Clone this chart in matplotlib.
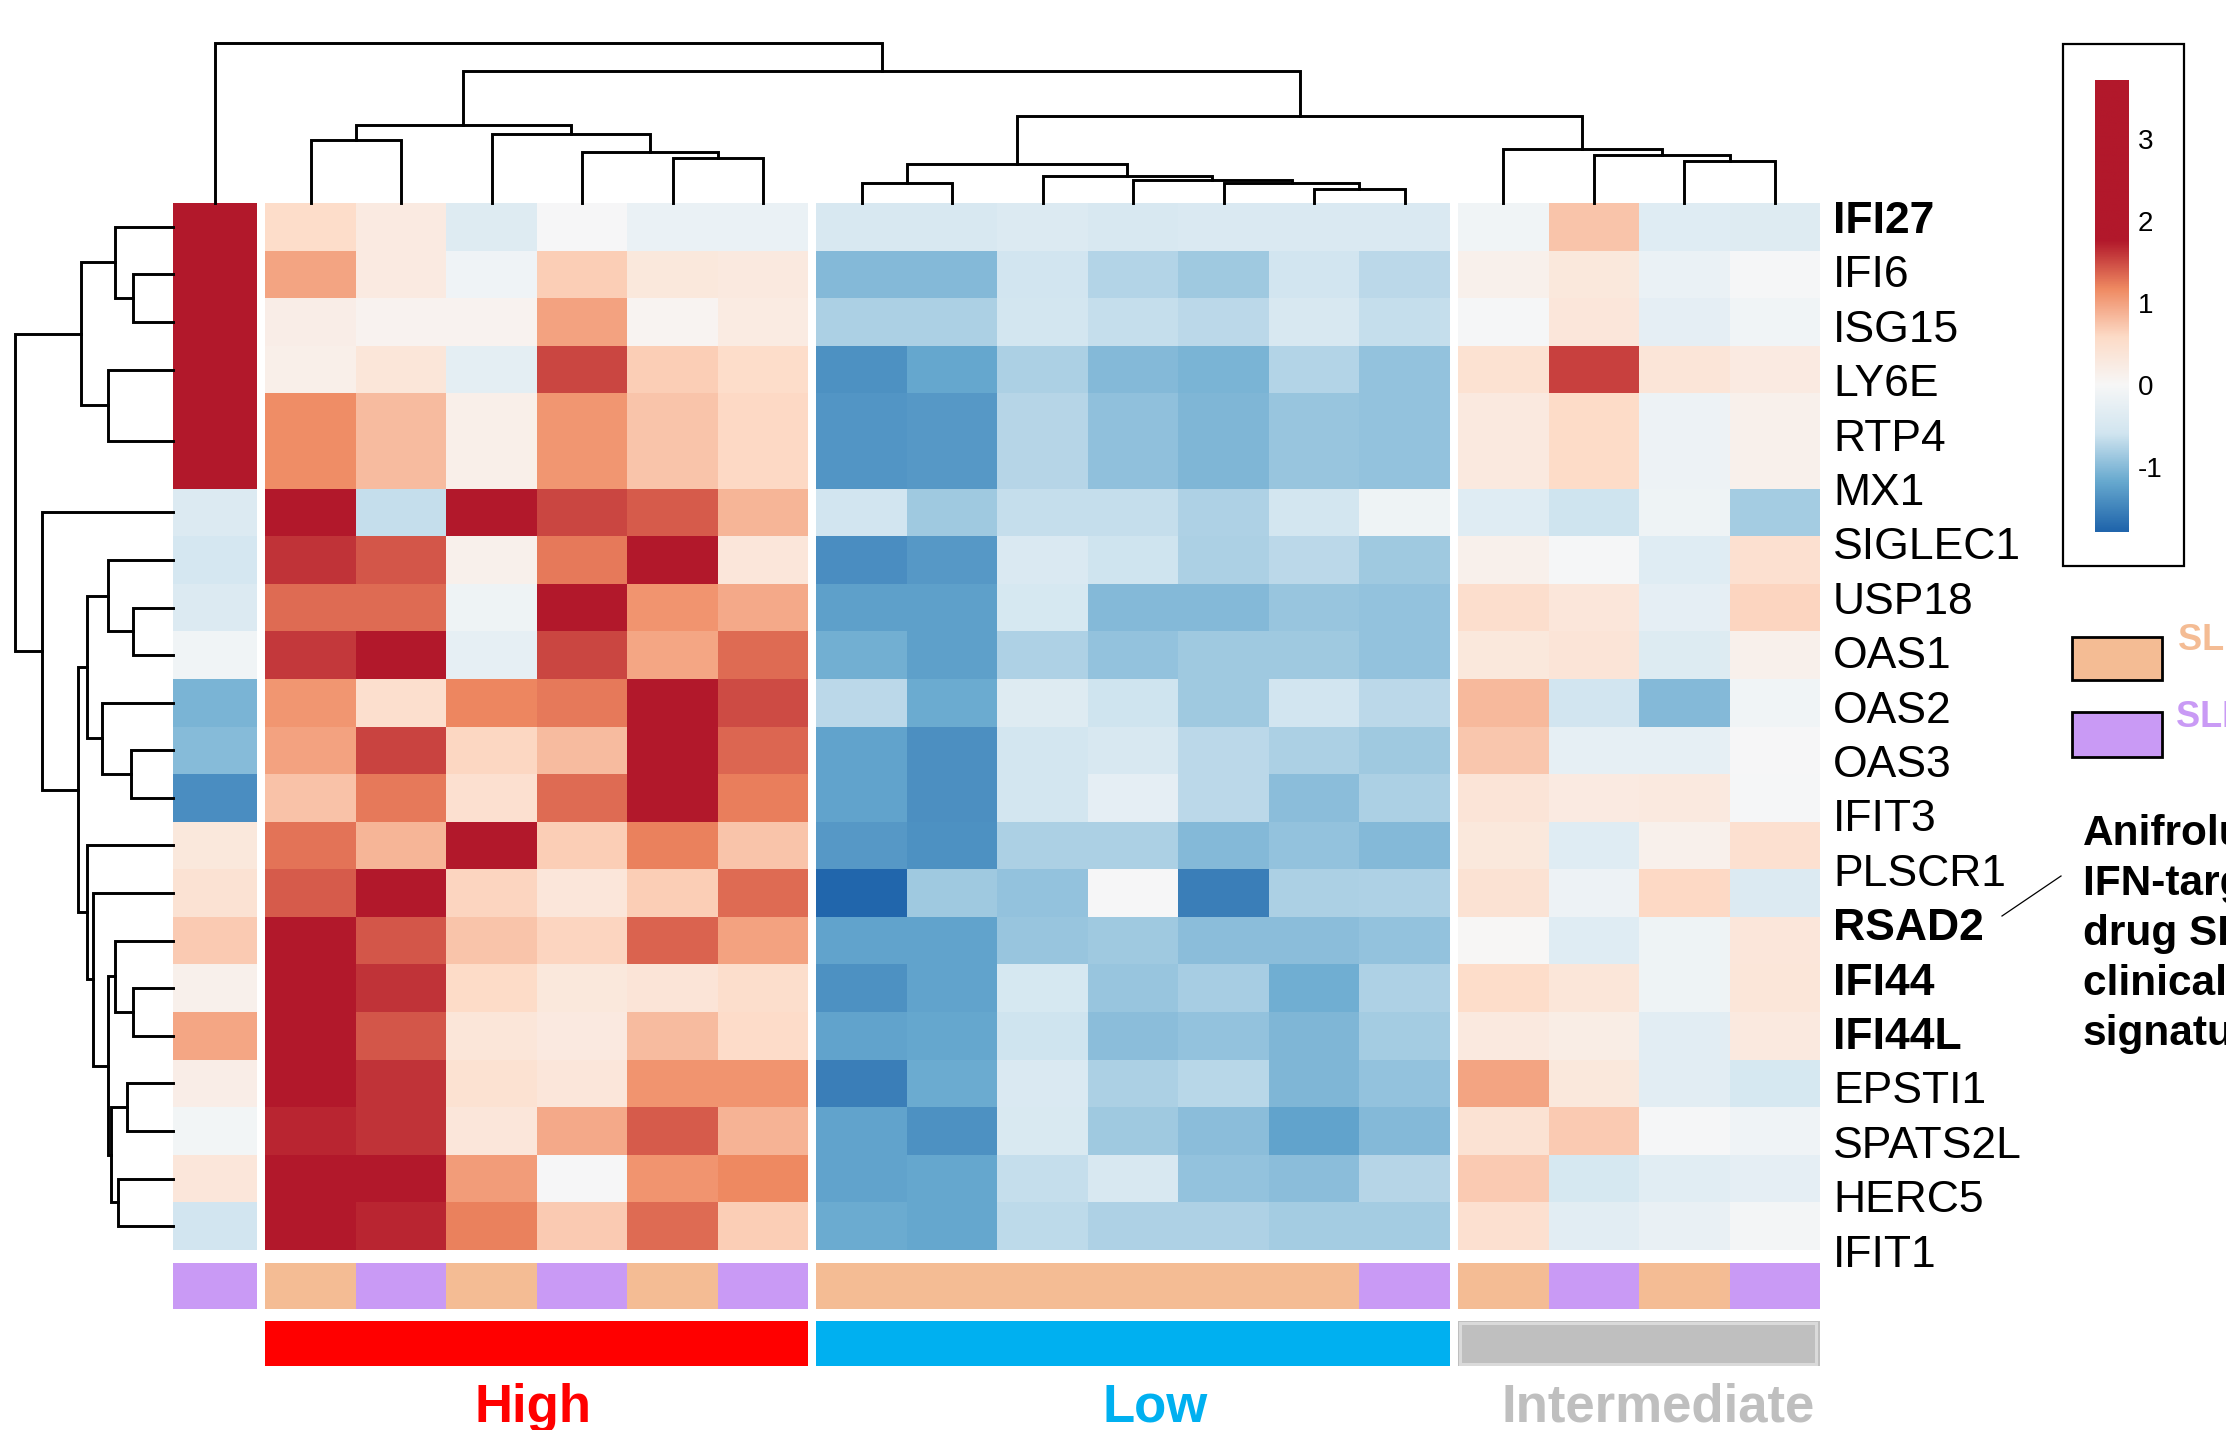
import numpy as np
import matplotlib
matplotlib.use("Agg")
import matplotlib.pyplot as plt
from matplotlib.colors import LinearSegmentedColormap, Normalize, ListedColormap
from matplotlib.patches import Rectangle
from matplotlib.ticker import FixedLocator, FixedFormatter

plt.rcParams['font.family'] = ['Liberation Sans', 'DejaVu Sans']
plt.rcParams['axes.unicode_minus'] = False

# ---------------- data ----------------
genes = ["IFI27", "IFI6", "ISG15", "LY6E", "RTP4", "MX1", "SIGLEC1", "USP18", "OAS1",
         "OAS2", "OAS3", "IFIT3", "PLSCR1", "RSAD2", "IFI44", "IFI44L", "EPSTI1",
         "SPATS2L", "HERC5", "IFIT1"]
bold_genes = ["IFI27", "RSAD2", "IFI44", "IFI44L"]

# relative heights of the heatmap rows (5th row is drawn double height)
row_heights = [1, 1, 1, 1, 2] + [1] * 16

# z-scores, first (separate) column
z_first = [2.5, 2.5, 2.5, 2.5, 2.5, -0.42, -0.52, -0.42, -0.10, -1.07, -1.00, -1.42,
           0.33, 0.43, 0.71, 0.15, 0.97, 0.20, -0.08, 0.35, -0.57]

z_high = [
    [0.55, 0.27, -0.40, -0.02, -0.20, -0.20],
    [0.99, 0.27, -0.12, 0.68, 0.32, 0.30],
    [0.20, 0.10, 0.10, 1.00, 0.08, 0.25],
    [0.17, 0.36, -0.30, 1.53, 0.68, 0.55],
    [1.15, 0.82, 0.17, 1.08, 0.75, 0.60],
    [2.30, -0.65, 2.30, 1.53, 1.42, 0.86],
    [1.63, 1.45, 0.15, 1.26, 2.30, 0.35],
    [1.34, 1.34, -0.15, 2.30, 1.10, 0.95],
    [1.60, 2.30, -0.27, 1.53, 0.97, 1.34],
    [1.08, 0.50, 1.20, 1.26, 2.30, 1.50],
    [1.00, 1.54, 0.62, 0.82, 2.30, 1.36],
    [0.77, 1.26, 0.48, 1.34, 2.30, 1.24],
    [1.29, 0.86, 2.30, 0.68, 1.22, 0.76],
    [1.42, 2.30, 0.63, 0.35, 0.68, 1.34],
    [2.30, 1.45, 0.75, 0.63, 1.37, 1.00],
    [2.30, 1.63, 0.57, 0.32, 0.40, 0.53],
    [2.30, 1.45, 0.37, 0.28, 0.82, 0.56],
    [2.30, 1.63, 0.45, 0.35, 1.10, 1.10],
    [1.70, 1.63, 0.35, 0.95, 1.42, 0.88],
    [2.30, 2.20, 1.05, -0.02, 1.10, 1.18],
    [2.30, 1.70, 1.22, 0.71, 1.34, 0.68],
]

z_low = [
    [-0.48, -0.48, -0.42, -0.48, -0.45, -0.45, -0.45],
    [-1.01, -1.01, -0.57, -0.75, -0.87, -0.58, -0.71],
    [-0.79, -0.79, -0.56, -0.65, -0.71, -0.48, -0.65],
    [-1.39, -1.19, -0.79, -1.02, -1.07, -0.75, -0.94],
    [-1.35, -1.32, -0.74, -0.95, -1.05, -0.90, -0.94],
    [-0.57, -0.87, -0.65, -0.65, -0.78, -0.56, -0.14],
    [-1.42, -1.32, -0.45, -0.60, -0.79, -0.71, -0.87],
    [-1.25, -1.25, -0.50, -1.01, -1.01, -0.90, -0.94],
    [-1.11, -1.25, -0.78, -0.94, -0.86, -0.87, -0.94],
    [-0.71, -1.16, -0.38, -0.60, -0.86, -0.58, -0.71],
    [-1.22, -1.41, -0.56, -0.48, -0.71, -0.79, -0.87],
    [-1.22, -1.41, -0.56, -0.28, -0.71, -0.98, -0.79],
    [-1.32, -1.39, -0.79, -0.79, -1.02, -0.94, -1.02],
    [-1.77, -0.86, -0.94, -0.02, -1.55, -0.79, -0.78],
    [-1.22, -1.22, -0.90, -0.87, -0.98, -0.98, -0.94],
    [-1.39, -1.22, -0.50, -0.90, -0.82, -1.13, -0.78],
    [-1.22, -1.19, -0.60, -0.98, -0.94, -1.04, -0.83],
    [-1.56, -1.16, -0.45, -0.79, -0.73, -1.04, -0.94],
    [-1.22, -1.39, -0.47, -0.86, -0.98, -1.22, -1.01],
    [-1.22, -1.19, -0.65, -0.48, -0.94, -0.98, -0.74],
    [-1.16, -1.19, -0.70, -0.78, -0.78, -0.83, -0.83],
]

z_inter = [
    [-0.10, 0.76, -0.36, -0.40],
    [0.15, 0.32, -0.20, -0.03],
    [-0.03, 0.35, -0.28, -0.10],
    [0.45, 1.56, 0.38, 0.27],
    [0.30, 0.57, -0.16, 0.15],
    [-0.36, -0.60, -0.14, -0.83],
    [0.15, -0.03, -0.36, 0.48],
    [0.52, 0.35, -0.28, 0.63],
    [0.32, 0.40, -0.41, 0.15],
    [0.84, -0.58, -1.01, -0.10],
    [0.74, -0.26, -0.26, -0.02],
    [0.40, 0.27, 0.30, -0.03],
    [0.32, -0.36, 0.15, 0.48],
    [0.44, -0.16, 0.60, -0.42],
    [0.02, -0.36, -0.14, 0.35],
    [0.55, 0.37, -0.14, 0.37],
    [0.30, 0.22, -0.33, 0.30],
    [0.99, 0.32, -0.33, -0.50],
    [0.44, 0.71, -0.03, -0.12],
    [0.71, -0.50, -0.34, -0.28],
    [0.48, -0.33, -0.22, -0.06],
]

# sample annotations (0 = first SLE type, 1 = second SLE type)
sle_first = [1]
sle_high = [0, 1, 0, 1, 0, 1]
sle_low = [0, 0, 0, 0, 0, 0, 1]
sle_inter = [0, 1, 0, 1]
sle_names = ["SLE", "SLE"]
sle_colors = ["#f4bc94", "#c99af5"]

groups = ["High", "Low", "Intermediate"]
group_colors = ["#ff0000", "#00b0f0", "#bfbfbf"]

# column dendrogram: (child a, child b, height); leaves 0..17, merges numbered from 18
col_merges = [
    (1, 2, 63), (5, 6, 45), (4, 19, 51), (3, 20, 69), (18, 21, 78),
    (7, 8, 20), (12, 13, 14), (11, 24, 20), (10, 25, 23), (9, 26, 27), (23, 27, 39),
    (16, 17, 42), (15, 29, 48), (14, 30, 54), (28, 31, 87),
    (22, 32, 132), (0, 33, 160),
]
# row dendrogram: leaves 0..20, merges numbered from 21
row_merges = [
    (1, 2, 40), (0, 21, 58), (3, 4, 65), (22, 23, 92),
    (7, 8, 40), (6, 25, 65), (10, 11, 42), (9, 27, 71), (26, 28, 86),
    (15, 16, 40), (14, 30, 58), (17, 18, 46), (19, 20, 55), (32, 33, 62),
    (31, 34, 65), (13, 35, 80), (12, 36, 86), (29, 37, 95), (5, 38, 131),
    (24, 39, 158),
]

cbar_ticks = [3, 2, 1, 0, -1]
cbar_range = (-1.79, 3.72)

note_lines = ["Anifrolumab", "IFN-target gene", "drug SLE", "clinical trial", "signature"]

# ---------------- layout ----------------
W, H = 2226, 1430
fig = plt.figure(figsize=(W / 100, H / 100), dpi=100)


def ax_px(x0, y0, x1, y1):
    return fig.add_axes([x0 / W, 1 - y1 / H, (x1 - x0) / W, (y1 - y0) / H])


gap = 0.09
first_w = 0.93
nrow = len(z_first)

# assemble matrix with NaN gap columns
blocks = [np.array(z_first, float).reshape(-1, 1), np.array(z_high, float),
          np.array(z_low, float), np.array(z_inter, float)]
gap_col = np.full((nrow, 1), np.nan)
M = np.hstack([blocks[0], gap_col, blocks[1], gap_col, blocks[2], gap_col, blocks[3]])
widths = [first_w, gap] + [1] * 6 + [gap] + [1] * 7 + [gap] + [1] * 4
xedges = np.concatenate([[0], np.cumsum(widths)])
real_cols = [i for i, w in enumerate(widths) if w != gap]
col_centers = [(xedges[i] + xedges[i + 1]) / 2 for i in real_cols]
yedges = np.concatenate([[0], np.cumsum(row_heights)])
row_centers = (yedges[:-1] + yedges[1:]) / 2
xmax = xedges[-1]
ymax = yedges[-1]

cmap = LinearSegmentedColormap.from_list(
    "rdbu7", ["#2166ac", "#67a9cf", "#d1e5f0", "#f7f7f7", "#fddbc7", "#ef8a62", "#b2182b"])
norm = Normalize(vmin=-1.77, vmax=1.77)

# heatmap
ax = ax_px(173, 203, 1820, 1250)
ax.pcolormesh(xedges, yedges, np.ma.masked_invalid(M), cmap=cmap, norm=norm)
ax.set_xlim(0, xmax)
ax.set_ylim(ymax, 0)
ax.axis("off")


def draw_dendro(axd, merges, leaf_pos, orient, lw):
    pos = list(leaf_pos)
    hgt = [0.0] * len(leaf_pos)
    for a, b, h in merges:
        xs = [pos[a], pos[a], pos[b], pos[b]]
        ys = [hgt[a], h, h, hgt[b]]
        if orient == "top":
            axd.plot(xs, ys, color="black", lw=lw, clip_on=False, solid_joinstyle="miter")
        else:
            axd.plot(ys, xs, color="black", lw=lw, clip_on=False, solid_joinstyle="miter")
        pos.append((pos[a] + pos[b]) / 2)
        hgt.append(h)


axc = ax_px(173, 0, 1820, 203)
draw_dendro(axc, col_merges, col_centers, "top", 2.1)
axc.set_xlim(0, xmax)
axc.set_ylim(0, 203)
axc.axis("off")

axr = ax_px(0, 203, 173, 1250)
draw_dendro(axr, row_merges, list(row_centers), "left", 2.1)
axr.set_xlim(173, 0)
axr.set_ylim(ymax, 0)
axr.axis("off")

# annotation bar 1 (SLE type)
sle_all = sle_first + sle_high + sle_low + sle_inter
row1 = np.full(len(widths), np.nan)
for k, ci in enumerate(real_cols):
    row1[ci] = sle_all[k]
ab1 = ax_px(173, 1263, 1820, 1309)
ab1.pcolormesh(xedges, [0, 1], np.ma.masked_invalid(row1.reshape(1, -1)),
               cmap=ListedColormap(sle_colors), vmin=-0.5, vmax=1.5)
ab1.set_xlim(0, xmax)
ab1.set_ylim(1, 0)
ab1.axis("off")

# annotation bar 2 (group)
grp_all = [np.nan] + [0] * len(sle_high) + [1] * len(sle_low) + [2] * len(sle_inter)
row2 = np.full(len(widths), np.nan)
for k, ci in enumerate(real_cols):
    row2[ci] = grp_all[k]
ab2 = ax_px(173, 1321, 1820, 1366)
ab2.pcolormesh(xedges, [0, 1], np.ma.masked_invalid(row2.reshape(1, -1)),
               cmap=ListedColormap(group_colors), vmin=-0.5, vmax=2.5)
inter_start = xedges[real_cols[-len(sle_inter)]]
ab2.add_patch(Rectangle((inter_start + 0.02, 0.04), xmax - inter_start - 0.06, 0.92,
                        fill=False, ec="#dadada", lw=2.2))
ab2.set_xlim(0, xmax)
ab2.set_ylim(1, 0)
ab2.axis("off")

# colorbar
cax = ax_px(2095, 80, 2129, 532)
grad = np.linspace(cbar_range[0], cbar_range[1], 600).reshape(-1, 1)
cax.imshow(grad, cmap=cmap, norm=norm, aspect="auto", origin="lower",
           extent=(0, 1, cbar_range[0], cbar_range[1]))
cax.set_ylim(*cbar_range)
cax.set_xlim(0, 1)
for s in cax.spines.values():
    s.set_visible(False)
cax.set_xticks([])
cax.yaxis.tick_right()
cax.yaxis.set_major_locator(FixedLocator(cbar_ticks))
cax.yaxis.set_major_formatter(FixedFormatter([str(t) for t in cbar_ticks]))
cax.tick_params(axis="y", length=0, pad=6.5, labelsize=20)

# overlay for texts and frames
ov = ax_px(0, 0, W, H)
ov.set_xlim(0, W)
ov.set_ylim(H, 0)
ov.axis("off")

# gene labels
for i, g in enumerate(genes):
    ov.text(1833, 233 + 54.4 * i, g, fontsize=32, ha="left", va="baseline",
            fontweight="bold" if g in bold_genes else "normal", color="black")

# colorbar frame
ov.add_patch(Rectangle((2063, 44), 121, 522, fill=False, ec="black", lw=1.6))

# SLE legend
ov.add_patch(Rectangle((2072, 637), 90, 43, fc=sle_colors[0], ec="black", lw=2))
ov.add_patch(Rectangle((2072, 712), 90, 45, fc=sle_colors[1], ec="black", lw=2))
ov.text(2178, 650, sle_names[0] + " patients", fontsize=26, fontweight="bold",
        color=sle_colors[0], ha="left", va="baseline")
ov.text(2176, 727, sle_names[1] + " patients", fontsize=26, fontweight="bold",
        color=sle_colors[1], ha="left", va="baseline")

# note text
for i, line in enumerate(note_lines):
    ov.text(2083, 845 + 50 * i, line, fontsize=30.5, fontweight="bold",
            ha="left", va="baseline", color="black")
ov.plot([2002, 2061], [916, 876], color="black", lw=0.9)

# group labels
group_x = [533, 1155, 1658]
for gname, gc, gx in zip(groups, group_colors, group_x):
    ov.text(gx, 1422, gname, fontsize=38, fontweight="bold", color=gc,
            ha="center", va="baseline")

fig.savefig("out.png", dpi=100)
